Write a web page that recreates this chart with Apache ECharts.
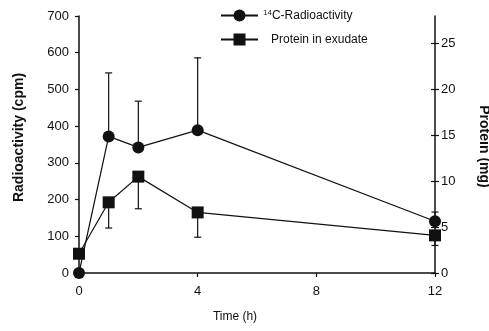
<!DOCTYPE html>
<html>
<head>
<meta charset="utf-8">
<script src="https://cdn.jsdelivr.net/npm/echarts@6/dist/echarts.min.js"></script>
<style>
  html, body { margin: 0; padding: 0; background: #fff; }
  #chart { width: 489px; height: 331px; }
</style>
</head>
<body>
<div id="chart"></div>
<script>
// time points (h)
const time = [0, 1, 2, 4, 12];
// 14C-radioactivity (cpm) and top of its error bar
const radio = [0, 372, 342, 389, 141];
const radioUpper = [null, 545, 468, 586, 166];
// protein in exudate (mg) and bottom of its error bar
const protein = [2.1, 7.7, 10.5, 6.6, 4.1];
const proteinLower = [null, 4.9, 7.0, 3.9, 3.0];

const xTicks = [0, 4, 8, 12];
const leftTicks = [0, 100, 200, 300, 400, 500, 600, 700];
const rightTicks = [0, 5, 10, 15, 20, 25];

const font = 'Liberation Sans, Arial, sans-serif';
const ink = '#111';

const chart = echarts.init(document.getElementById('chart'));

function errBar(params, api) {
  const x = api.value(0);
  const a = api.coord([x, api.value(1)]);
  const b = api.coord([x, api.value(2)]);
  const w = 3.5;
  const st = { stroke: ink, lineWidth: 1.2 };
  return {
    type: 'group',
    children: [
      { type: 'line', shape: { x1: a[0], y1: a[1], x2: b[0], y2: b[1] }, style: st },
      { type: 'line', shape: { x1: b[0] - w, y1: b[1], x2: b[0] + w, y2: b[1] }, style: st }
    ]
  };
}

const radioErr = time.map((t, i) => radioUpper[i] == null ? null : [t, radio[i], radioUpper[i]]).filter(d => d);
const protErr = time.map((t, i) => proteinLower[i] == null ? null : [t, protein[i], proteinLower[i]]).filter(d => d);

const option = {
  animation: false,
  grid: { left: 79, right: 54, top: 16, bottom: 58, outerBoundsMode: 'none' },
  legend: {
    orient: 'vertical',
    left: 220,
    top: 9,
    padding: 0,
    itemWidth: 37,
    itemHeight: 15,
    itemGap: 12,
    textStyle: {
      fontFamily: font, fontSize: 12, color: ink,
      rich: {
        sup: { fontFamily: font, fontSize: 8, color: ink, verticalAlign: 'top', padding: [0, 0, 5, 0] },
        t: { fontFamily: font, fontSize: 12, color: ink },
        pad: { width: 8 }
      }
    },
    formatter: function (name) {
      if (name === 'radio') return '{sup|14}{t|C-Radioactivity}';
      return '{pad|}{t|Protein in exudate}';
    },
    data: ['radio', 'protein']
  },
  xAxis: {
    type: 'value',
    min: 0, max: 12, interval: 4,
    name: 'Time (h)',
    nameLocation: 'middle',
    nameGap: 38,
    nameTextStyle: { fontFamily: font, fontSize: 12, color: ink, padding: [0, 44, 0, 0] },
    axisLine: { onZero: false, lineStyle: { color: ink, width: 1.5 } },
    axisTick: { length: 4, lineStyle: { color: ink, width: 1.2 }, customValues: xTicks },
    axisLabel: { fontFamily: font, fontSize: 13, color: ink, margin: 12, customValues: xTicks },
    splitLine: { show: false }
  },
  yAxis: [
    {
      type: 'value',
      min: 0, max: 700, interval: 100,
      name: 'Radioactivity (cpm)',
      nameLocation: 'middle',
      nameGap: 53,
      nameRotate: 90,
      nameTextStyle: { fontFamily: font, fontSize: 14, fontWeight: 'bold', color: ink, padding: [0, 0, 0, 14] },
      axisLine: { show: true, lineStyle: { color: ink, width: 1.5 } },
      axisTick: { show: true, length: 4, lineStyle: { color: ink, width: 1.2 }, customValues: leftTicks },
      axisLabel: { fontFamily: font, fontSize: 13, color: ink, margin: 10, customValues: leftTicks },
      splitLine: { show: false }
    },
    {
      type: 'value',
      position: 'right',
      min: 0, max: 28, interval: 5,
      name: 'Protein (mg)',
      nameLocation: 'middle',
      nameGap: 42,
      nameRotate: -90,
      nameTextStyle: { fontFamily: font, fontSize: 14, fontWeight: 'bold', color: ink, padding: [0, 0, 0, 4] },
      axisLine: { show: true, lineStyle: { color: ink, width: 1.5 } },
      axisTick: { show: true, length: 4, lineStyle: { color: ink, width: 1.2 }, customValues: rightTicks },
      axisLabel: { fontFamily: font, fontSize: 13, color: ink, margin: 6, customValues: rightTicks },
      splitLine: { show: false }
    },
    {
      type: 'value',
      position: 'right',
      min: 0, max: 28, interval: 5,
      axisLine: { show: false },
      axisTick: { show: true, inside: true, length: 4, lineStyle: { color: ink, width: 1.2 }, customValues: rightTicks },
      axisLabel: { show: false },
      splitLine: { show: false }
    }
  ],
  series: [
    {
      type: 'custom',
      yAxisIndex: 0,
      renderItem: errBar,
      data: radioErr,
      clip: false,
      z: 1
    },
    {
      type: 'custom',
      yAxisIndex: 1,
      renderItem: errBar,
      data: protErr,
      clip: false,
      z: 1
    },
    {
      name: 'radio',
      type: 'line',
      yAxisIndex: 0,
      data: time.map((t, i) => [t, radio[i]]),
      symbol: 'circle',
      symbolSize: 12,
      clip: false,
      lineStyle: { color: ink, width: 1.2 },
      itemStyle: { color: ink },
      z: 3
    },
    {
      name: 'protein',
      type: 'line',
      yAxisIndex: 1,
      data: time.map((t, i) => [t, protein[i]]),
      symbol: 'rect',
      symbolSize: 12,
      clip: false,
      lineStyle: { color: ink, width: 1.2 },
      itemStyle: { color: ink },
      z: 3
    }
  ]
};

chart.setOption(option);
</script>
</body>
</html>
